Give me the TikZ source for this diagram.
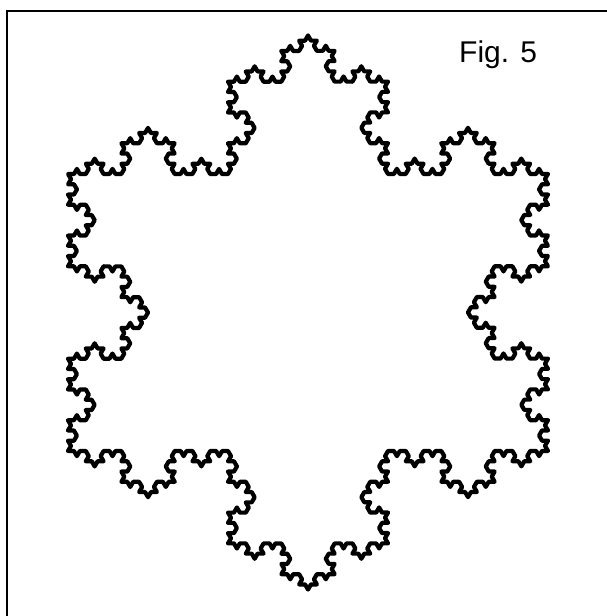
\documentclass[tikz,border=0pt]{standalone}
\usepackage{fontspec}
\setmainfont{Liberation Sans}
\usetikzlibrary{decorations.fractals}
\tikzset{
  koch/.style={line width=4.2pt, line join=round, line cap=round, decoration=Koch snowflake},
  frm/.style={line width=2pt},
  lbl/.style={font=\fontsize{30}{36}\selectfont, inner sep=0pt, anchor=base west},
}

\begin{document}
\begin{tikzpicture}[x=1pt, y=-1pt]
\useasboundingbox (0,0) rectangle (607,616);
\coordinate (fl) at (6.5,616);
\coordinate (fc) at (6.5,10.5);
\coordinate (fr) at (607,10.5);
\draw[frm] (fl) -- (fc) -- (fr);
% base triangle of the snowflake
\coordinate (t) at (308,35.5);
\coordinate (br) at (548,451);
\coordinate (bl) at (68,451);
\draw[koch] decorate{decorate{decorate{decorate{(t) -- (br) -- (bl) -- (t)}}}};
\node[lbl] (fig) at (459,62) {Fig. 5};
\end{tikzpicture}
\end{document}
